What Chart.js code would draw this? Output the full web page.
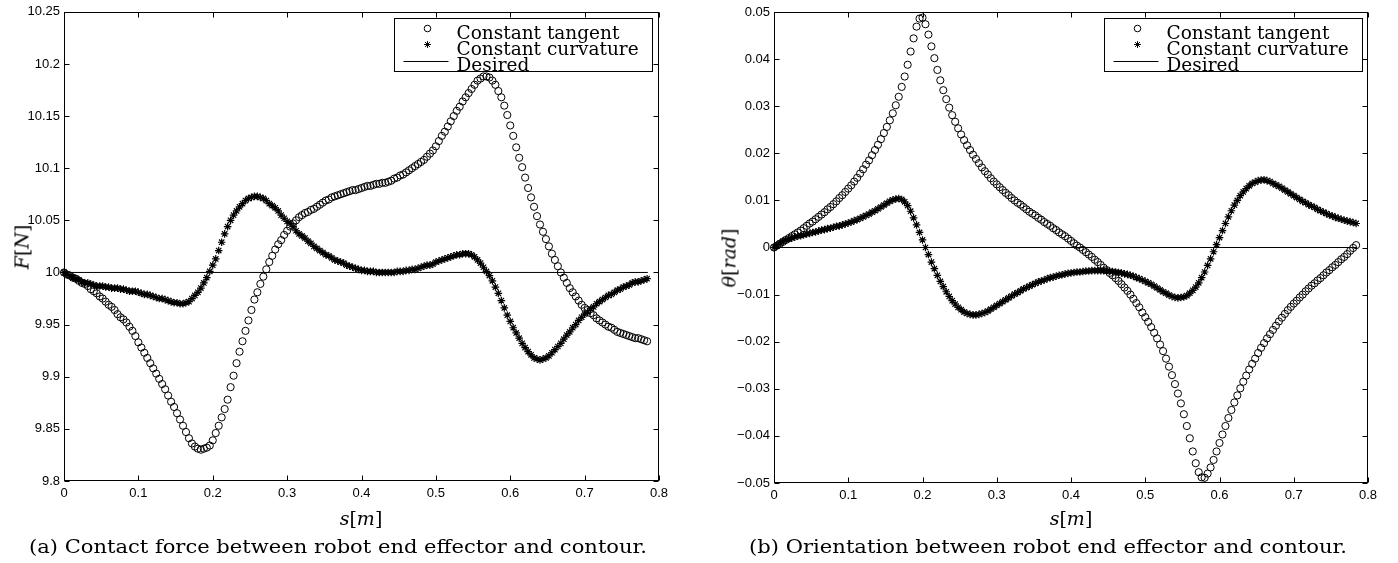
<!DOCTYPE html>
<html><head><meta charset="utf-8">
<script src="https://cdn.jsdelivr.net/npm/chart.js@4.4.0/dist/chart.umd.min.js"></script>
<style>
body{margin:0;width:1398px;height:563px;background:#fff;position:relative;overflow:hidden;}
.wrap{position:absolute;top:0;}
.t{position:absolute;white-space:nowrap;color:#000;line-height:1;font-family:"DejaVu Serif",serif;}
.ax{font-size:19px;}
.cap{font-size:19px;transform-origin:0 50%;}
</style></head><body>
<div class="wrap" style="left:0;width:700px;height:563px"><canvas id="c1" width="700" height="563"></canvas></div>
<div class="wrap" style="left:700px;width:698px;height:563px"><canvas id="c2" width="698" height="563"></canvas></div>
<div class="t ax" id="yl1" style="left:22px;top:247px;transform:translate(-50%,-50%) rotate(-90deg)"><i>F</i>[<i>N</i>]</div>
<div class="t ax" id="yl2" style="left:729px;top:258px;transform:translate(-50%,-50%) rotate(-90deg)"><i>θ</i>[<i>rad</i>]</div>
<div class="t ax" id="xl1" style="left:361px;top:518px;transform:translate(-50%,-50%)"><i>s</i>[<i>m</i>]</div>
<div class="t ax" id="xl2" style="left:1071px;top:518px;transform:translate(-50%,-50%)"><i>s</i>[<i>m</i>]</div>
<div class="t cap" data-l="29" data-r="647" data-y="546">(a) Contact force between robot end effector and contour.</div>
<div class="t cap" data-l="749" data-r="1347" data-y="546">(b) Orientation between robot end effector and contour.</div>
<script>
const sValues = [0,0.004,0.008,0.012,0.016,0.02,0.024,0.028,0.032,0.036,
0.04,0.044,0.048,0.052,0.056,0.06,0.064,0.068,0.072,0.076,
0.08,0.084,0.088,0.092,0.096,0.1,0.104,0.108,0.112,0.116,
0.12,0.124,0.128,0.132,0.136,0.14,0.144,0.148,0.152,0.156,
0.16,0.164,0.168,0.172,0.176,0.18,0.184,0.188,0.192,0.196,
0.2,0.204,0.208,0.212,0.216,0.22,0.224,0.228,0.232,0.236,
0.24,0.244,0.248,0.252,0.256,0.26,0.264,0.268,0.272,0.276,
0.28,0.284,0.288,0.292,0.296,0.3,0.304,0.308,0.312,0.316,
0.32,0.324,0.328,0.332,0.336,0.34,0.344,0.348,0.352,0.356,
0.36,0.364,0.368,0.372,0.376,0.38,0.384,0.388,0.392,0.396,
0.4,0.404,0.408,0.412,0.416,0.42,0.424,0.428,0.432,0.436,
0.44,0.444,0.448,0.452,0.456,0.46,0.464,0.468,0.472,0.476,
0.48,0.484,0.488,0.492,0.496,0.5,0.504,0.508,0.512,0.516,
0.52,0.524,0.528,0.532,0.536,0.54,0.544,0.548,0.552,0.556,
0.56,0.564,0.568,0.572,0.576,0.58,0.584,0.588,0.592,0.596,
0.6,0.604,0.608,0.612,0.616,0.62,0.624,0.628,0.632,0.636,
0.64,0.644,0.648,0.652,0.656,0.66,0.664,0.668,0.672,0.676,
0.68,0.684,0.688,0.692,0.696,0.7,0.704,0.708,0.712,0.716,
0.72,0.724,0.728,0.732,0.736,0.74,0.744,0.748,0.752,0.756,
0.76,0.764,0.768,0.772,0.776,0.78,0.784];

const forceTangent = [10.000,9.998,9.997,9.995,9.994,9.992,9.990,9.989,9.987,9.984,
9.982,9.980,9.977,9.975,9.972,9.969,9.967,9.964,9.960,9.957,
9.955,9.952,9.948,9.944,9.939,9.933,9.928,9.923,9.918,9.913,
9.908,9.903,9.898,9.893,9.888,9.882,9.876,9.871,9.865,9.859,
9.853,9.847,9.841,9.836,9.833,9.831,9.830,9.831,9.832,9.834,
9.839,9.846,9.853,9.861,9.869,9.878,9.890,9.901,9.913,9.924,
9.934,9.944,9.954,9.964,9.974,9.981,9.989,9.996,10.003,10.010,
10.016,10.022,10.027,10.031,10.036,10.040,10.044,10.047,10.050,10.053,
10.055,10.057,10.058,10.060,10.061,10.063,10.065,10.067,10.069,10.070,
10.072,10.073,10.074,10.075,10.076,10.077,10.078,10.079,10.079,10.080,
10.081,10.082,10.083,10.083,10.084,10.085,10.085,10.086,10.086,10.087,
10.088,10.090,10.091,10.093,10.094,10.096,10.098,10.100,10.102,10.104,
10.106,10.108,10.111,10.114,10.117,10.121,10.126,10.131,10.135,10.140,
10.145,10.150,10.155,10.159,10.164,10.168,10.172,10.176,10.180,10.184,
10.186,10.188,10.188,10.187,10.184,10.180,10.174,10.168,10.160,10.151,
10.141,10.131,10.120,10.110,10.101,10.091,10.081,10.072,10.063,10.054,
10.046,10.039,10.032,10.025,10.018,10.012,10.006,10.000,9.995,9.990,
9.985,9.981,9.977,9.973,9.969,9.966,9.964,9.961,9.959,9.956,
9.954,9.952,9.950,9.948,9.947,9.945,9.943,9.942,9.941,9.940,
9.939,9.938,9.937,9.937,9.936,9.935,9.934];

const forceCurvature = [10.000,9.998,9.997,9.995,9.994,9.993,9.991,9.990,9.990,9.989,
9.988,9.987,9.987,9.987,9.986,9.986,9.985,9.985,9.985,9.984,
9.984,9.983,9.982,9.982,9.982,9.981,9.980,9.979,9.979,9.978,
9.977,9.976,9.975,9.975,9.974,9.973,9.972,9.971,9.971,9.970,
9.970,9.971,9.972,9.975,9.978,9.981,9.985,9.990,9.995,10.001,
10.007,10.013,10.021,10.029,10.037,10.044,10.050,10.055,10.059,10.063,
10.066,10.069,10.071,10.072,10.073,10.073,10.072,10.071,10.069,10.066,
10.064,10.062,10.059,10.055,10.052,10.049,10.047,10.044,10.040,10.037,
10.035,10.033,10.030,10.028,10.025,10.023,10.021,10.019,10.017,10.016,
10.014,10.012,10.011,10.010,10.009,10.007,10.006,10.005,10.004,10.003,
10.002,10.002,10.001,10.001,10.001,10.000,10.000,10.000,10.000,10.000,
10.000,10.000,10.001,10.001,10.001,10.002,10.002,10.003,10.003,10.004,
10.005,10.006,10.007,10.007,10.008,10.010,10.011,10.012,10.013,10.014,
10.015,10.016,10.017,10.017,10.018,10.018,10.018,10.017,10.015,10.012,
10.009,10.005,10.001,9.997,9.992,9.986,9.980,9.973,9.966,9.959,
9.953,9.947,9.942,9.937,9.932,9.928,9.924,9.921,9.918,9.917,
9.916,9.917,9.918,9.920,9.923,9.926,9.929,9.932,9.936,9.940,
9.943,9.947,9.950,9.954,9.957,9.960,9.962,9.965,9.967,9.970,
9.972,9.974,9.976,9.978,9.979,9.981,9.983,9.984,9.986,9.987,
9.988,9.990,9.991,9.991,9.992,9.993,9.994];

const orientTangent = [0.0000,0.0004,0.0008,0.0012,0.0016,0.0020,0.0024,0.0028,0.0032,0.0036,
0.0041,0.0046,0.0051,0.0055,0.0060,0.0065,0.0070,0.0075,0.0081,0.0086,
0.0092,0.0098,0.0105,0.0111,0.0118,0.0125,0.0132,0.0140,0.0148,0.0157,
0.0166,0.0176,0.0185,0.0196,0.0207,0.0218,0.0230,0.0243,0.0256,0.0270,
0.0285,0.0302,0.0320,0.0341,0.0363,0.0388,0.0416,0.0444,0.0469,0.0486,
0.0488,0.0474,0.0452,0.0427,0.0402,0.0377,0.0355,0.0334,0.0315,0.0297,
0.0281,0.0267,0.0253,0.0240,0.0228,0.0217,0.0207,0.0197,0.0188,0.0179,
0.0170,0.0162,0.0155,0.0147,0.0140,0.0134,0.0128,0.0122,0.0116,0.0111,
0.0105,0.0100,0.0095,0.0091,0.0086,0.0081,0.0076,0.0072,0.0068,0.0063,
0.0059,0.0054,0.0050,0.0046,0.0041,0.0037,0.0032,0.0028,0.0024,0.0019,
0.0014,0.0009,0.0004,0.0000,-0.0005,-0.0010,-0.0015,-0.0020,-0.0026,-0.0031,
-0.0037,-0.0043,-0.0048,-0.0054,-0.0059,-0.0065,-0.0071,-0.0078,-0.0085,-0.0092,
-0.0100,-0.0109,-0.0118,-0.0127,-0.0138,-0.0148,-0.0158,-0.0169,-0.0181,-0.0193,
-0.0206,-0.0220,-0.0236,-0.0253,-0.0271,-0.0290,-0.0310,-0.0331,-0.0354,-0.0379,
-0.0405,-0.0433,-0.0458,-0.0477,-0.0488,-0.0489,-0.0480,-0.0467,-0.0451,-0.0433,
-0.0415,-0.0397,-0.0379,-0.0362,-0.0345,-0.0329,-0.0314,-0.0299,-0.0285,-0.0272,
-0.0259,-0.0247,-0.0236,-0.0224,-0.0213,-0.0203,-0.0193,-0.0184,-0.0175,-0.0166,
-0.0157,-0.0149,-0.0141,-0.0133,-0.0126,-0.0119,-0.0113,-0.0106,-0.0100,-0.0093,
-0.0087,-0.0081,-0.0076,-0.0070,-0.0065,-0.0059,-0.0053,-0.0048,-0.0042,-0.0037,
-0.0031,-0.0025,-0.0020,-0.0014,-0.0007,-0.0001,0.0005];

const orientCurvature = [0.0000,0.0005,0.0009,0.0013,0.0016,0.0018,0.0020,0.0022,0.0024,0.0025,
0.0027,0.0029,0.0030,0.0032,0.0033,0.0035,0.0037,0.0038,0.0040,0.0041,
0.0043,0.0045,0.0046,0.0048,0.0050,0.0052,0.0054,0.0057,0.0059,0.0062,
0.0065,0.0068,0.0071,0.0075,0.0078,0.0082,0.0086,0.0090,0.0094,0.0098,
0.0101,0.0103,0.0104,0.0102,0.0097,0.0089,0.0077,0.0063,0.0048,0.0032,
0.0016,0.0000,-0.0015,-0.0031,-0.0045,-0.0059,-0.0072,-0.0083,-0.0094,-0.0104,
-0.0113,-0.0120,-0.0127,-0.0132,-0.0137,-0.0140,-0.0142,-0.0143,-0.0143,-0.0142,
-0.0140,-0.0138,-0.0135,-0.0131,-0.0127,-0.0123,-0.0119,-0.0115,-0.0111,-0.0107,
-0.0103,-0.0099,-0.0096,-0.0092,-0.0088,-0.0085,-0.0082,-0.0079,-0.0076,-0.0073,
-0.0071,-0.0069,-0.0066,-0.0064,-0.0063,-0.0061,-0.0059,-0.0058,-0.0056,-0.0055,
-0.0054,-0.0053,-0.0052,-0.0052,-0.0051,-0.0050,-0.0050,-0.0049,-0.0049,-0.0049,
-0.0049,-0.0049,-0.0050,-0.0050,-0.0051,-0.0052,-0.0053,-0.0054,-0.0056,-0.0057,
-0.0059,-0.0061,-0.0064,-0.0066,-0.0069,-0.0072,-0.0075,-0.0078,-0.0082,-0.0086,
-0.0090,-0.0094,-0.0097,-0.0101,-0.0104,-0.0106,-0.0107,-0.0106,-0.0105,-0.0102,
-0.0097,-0.0091,-0.0084,-0.0075,-0.0064,-0.0052,-0.0038,-0.0024,-0.0009,0.0006,
0.0021,0.0036,0.0051,0.0065,0.0078,0.0090,0.0100,0.0110,0.0118,0.0125,
0.0131,0.0136,0.0139,0.0142,0.0143,0.0144,0.0142,0.0140,0.0136,0.0133,
0.0130,0.0126,0.0122,0.0118,0.0114,0.0110,0.0106,0.0102,0.0098,0.0095,
0.0091,0.0088,0.0085,0.0081,0.0078,0.0075,0.0072,0.0069,0.0067,0.0064,
0.0062,0.0060,0.0058,0.0056,0.0055,0.0053,0.0051];

const desiredS = [0, 0.785];
const desiredForce = [10, 10];
const desiredOrient = [0, 0];

const xTickValues = [0,0.1,0.2,0.3,0.4,0.5,0.6,0.7,0.8];
const xTickLabels = ['0','0.1','0.2','0.3','0.4','0.5','0.6','0.7','0.8'];
const forceTickValues = [9.8,9.85,9.9,9.95,10,10.05,10.1,10.15,10.2,10.25];
const forceTickLabels = ['9.8','9.85','9.9','9.95','10','10.05','10.1','10.15','10.2','10.25'];
const orientTickValues = [-0.05,-0.04,-0.03,-0.02,-0.01,0,0.01,0.02,0.03,0.04,0.05];
const orientTickLabels = ['\u22120.05','\u22120.04','\u22120.03','\u22120.02','\u22120.01','0','0.01','0.02','0.03','0.04','0.05'];
const seriesNames = ['Constant tangent','Constant curvature','Desired'];

const pts = (xs, ys) => xs.map((x, i) => ({x, y: ys[i]}));

const frame = {
  id: 'frame',
  afterDraw(chart, args, opts) {
    const ctx = chart.ctx, a = chart.chartArea, xs = chart.scales.x, ys = chart.scales.y;
    ctx.save();
    ctx.strokeStyle = '#000'; ctx.lineWidth = 1;
    const L = Math.round(a.left) + 0.5, R = Math.round(a.right) - 0.5;
    const T = Math.round(a.top) + 0.5, B = Math.round(a.bottom) - 0.5;
    ctx.beginPath();
    xs.ticks.forEach(t => {
      const p = Math.round(xs.getPixelForValue(t.value)) + 0.5;
      ctx.moveTo(p, B); ctx.lineTo(p, B - 5);
      ctx.moveTo(p, T); ctx.lineTo(p, T + 5);
    });
    ys.ticks.forEach(t => {
      const p = Math.round(ys.getPixelForValue(t.value)) + 0.5;
      ctx.moveTo(L, p); ctx.lineTo(L + 5, p);
      ctx.moveTo(R, p); ctx.lineTo(R - 5, p);
    });
    ctx.stroke();
    ctx.strokeRect(L, T, R - L, B - T);
    const bw = 258, bh = 53;
    const bx = Math.round(a.right - opts.inset - bw) + 0.5, by = Math.round(a.top + 6) + 0.5;
    ctx.fillStyle = '#fff';
    ctx.fillRect(bx, by, bw, bh);
    ctx.strokeRect(bx, by, bw, bh);
    const ds = chart.data.datasets;
    ctx.fillStyle = 'rgba(0,0,0,0)';
    ctx.strokeStyle = '#000';
    Chart.helpers.drawPoint(ctx, {pointStyle: 'circle', radius: 3.3, borderWidth: 1, rotation: 0}, bx + 33, by + 10);
    ctx.strokeStyle = '#000';
    Chart.helpers.drawPoint(ctx, {pointStyle: 'star', radius: 3.4, borderWidth: 1.1, rotation: 0}, bx + 33, by + 26);
    ctx.lineWidth = 1;
    ctx.beginPath(); ctx.moveTo(bx + 9, by + 43); ctx.lineTo(bx + 54, by + 43); ctx.stroke();
    ctx.fillStyle = '#000';
    ctx.font = '18.5px "DejaVu Serif"';
    ctx.textBaseline = 'alphabetic';
    ctx.fillText(ds[0].label, bx + 62, by + 20);
    ctx.fillText(ds[1].label, bx + 62, by + 36);
    ctx.fillText(ds[2].label, bx + 62, by + 52);
    ctx.restore();
  }
};

function makeChart(id, tVals, cVals, dVals, yTickV, yTickL, yMin, yMax, pad, yWidth, xHeight, inset) {
  return new Chart(document.getElementById(id), {
    type: 'scatter',
    data: {
      datasets: [
        {label: seriesNames[0], data: pts(sValues, tVals), pointStyle: 'circle', pointRadius: 3.6,
         borderColor: '#000', backgroundColor: 'rgba(0,0,0,0)', borderWidth: 1, showLine: false, clip: false},
        {label: seriesNames[1], data: pts(sValues, cVals), pointStyle: 'star', pointRadius: 3.8,
         borderColor: '#000', backgroundColor: 'rgba(0,0,0,0)', borderWidth: 1.2, showLine: false, clip: false},
        {label: seriesNames[2], data: pts(desiredS, dVals), pointRadius: 0, showLine: true,
         borderColor: '#000', borderWidth: 1, clip: false}
      ]
    },
    options: {
      responsive: false, animation: false, devicePixelRatio: 1,
      layout: {padding: pad},
      plugins: {legend: {display: false}, tooltip: {enabled: false}, frame: {inset}},
      scales: {
        x: {type: 'linear', min: 0, max: 0.8,
            afterBuildTicks: s => { s.ticks = xTickValues.map(v => ({value: v})); },
            afterFit: s => { s.height = xHeight; },
            grid: {display: false, drawTicks: false}, border: {display: false},
            ticks: {padding: 5, color: '#000', font: {family: 'Liberation Sans', size: 13},
                    maxRotation: 0, autoSkip: false,
                    callback: (v, i) => xTickLabels[i]}},
        y: {type: 'linear', min: yMin, max: yMax,
            afterBuildTicks: s => { s.ticks = yTickV.map(v => ({value: v})); },
            afterFit: s => { s.width = yWidth; },
            grid: {display: false, drawTicks: false}, border: {display: false},
            ticks: {padding: 4, color: '#000', font: {family: 'Liberation Sans', size: 13},
                    autoSkip: false, callback: (v, i) => yTickL[i]}}
      }
    },
    plugins: [frame]
  });
}

makeChart('c1', forceTangent, forceCurvature, desiredForce, forceTickValues, forceTickLabels,
  9.8, 10.25, {top: 11, right: 41, left: 0, bottom: 0}, 64, 82, 7);
makeChart('c2', orientTangent, orientCurvature, desiredOrient, orientTickValues, orientTickLabels,
  -0.05, 0.05, {top: 12, right: 30, left: 0, bottom: 0}, 74, 80, 6);

document.querySelectorAll('.cap').forEach(el => {
  const l = +el.dataset.l, r = +el.dataset.r, y = +el.dataset.y;
  const rect = el.getBoundingClientRect();
  el.style.left = l + 'px';
  el.style.top = (y - rect.height / 2) + 'px';
  el.style.transform = 'scaleX(' + ((r - l) / rect.width) + ')';
});
</script>
</body></html>
